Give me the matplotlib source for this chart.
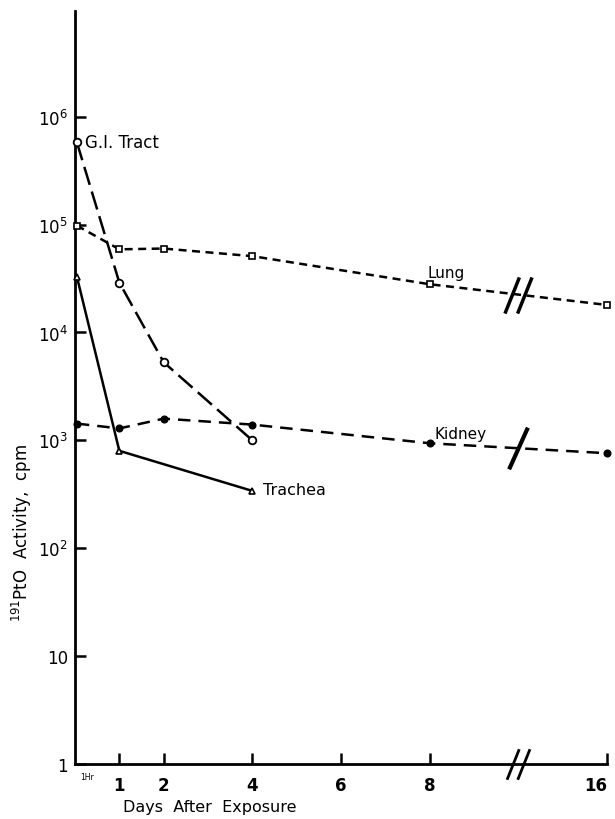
import matplotlib
matplotlib.use('Agg')
import matplotlib.pyplot as plt
import numpy as np
from matplotlib.path import Path

# ---- data ----
hr1 = 1 / 24
x_gi = [hr1, 1, 2, 4]
gi_tract = [5.8e5, 2.9e4, 5.3e3, 1.0e3]

x_lung = [hr1, 1, 2, 4, 8, 12]
lung = [9.8e4, 5.9e4, 6.0e4, 5.1e4, 2.8e4, 1.8e4]

x_kidney = [hr1, 1, 2, 4, 8, 12]
kidney = [1.43e3, 1.29e3, 1.59e3, 1.40e3, 9.4e2, 7.6e2]

x_trachea = [hr1, 1, 4]
trachea = [3.3e4, 8.0e2, 3.4e2]

xtick_pos = [1, 2, 4, 6, 8, 12]
xtick_labels = ['1', '2', '4', '6', '8', '16']
ytick_pos = [1, 10, 1e2, 1e3, 1e4, 1e5, 1e6]
ytick_labels = ['1', '10', r'$\mathregular{10^2}$', r'$\mathregular{10^3}$',
                r'$\mathregular{10^4}$', r'$\mathregular{10^5}$', r'$\mathregular{10^6}$']
break_x = 10

plt.rcParams['font.family'] = ['DejaVu Sans']

fig = plt.figure(figsize=(6.15, 8.2), dpi=100)
ax = fig.add_axes([75/615, 55/820, (607-75)/615, (765-12)/820])

ax.set_yscale('log')
ax.set_xlim(0, 12)
ax.set_ylim(1, 10**6.98)

lw = 1.8
ax.plot(x_gi, gi_tract, color='black', lw=lw, dashes=(7.5, 2.8),
        marker='o', ms=5.5, mfc='white', mec='black', mew=1.3, clip_on=False, zorder=3)
ax.plot(x_lung, lung, color='black', lw=lw, dashes=(3.2, 2.2),
        marker='s', ms=4.8, mfc='white', mec='black', mew=1.2, clip_on=False, zorder=3)
ax.plot(x_kidney, kidney, color='black', lw=lw, dashes=(5, 3.2),
        marker='o', ms=4.8, mfc='black', mec='black', clip_on=False, zorder=3)
ax.plot(x_trachea, trachea, color='black', lw=lw,
        marker='^', ms=5, mfc='white', mec='black', mew=1.2, clip_on=False, zorder=3)

# break marks
double = Path([(-0.75, -1), (0.05, 1), (-0.05, -1), (0.75, 1)],
              [Path.MOVETO, Path.LINETO, Path.MOVETO, Path.LINETO])
single = Path([(-0.45, -1), (0.45, 1)], [Path.MOVETO, Path.LINETO])

def interp_log(xs, ys, x):
    return 10 ** np.interp(x, xs, np.log10(ys))

ax.plot([break_x], [interp_log(x_lung, lung, break_x)], marker=double, ms=26,
        mec='black', mew=2.5, ls='none', zorder=4)
ax.plot([break_x], [interp_log(x_kidney, kidney, break_x)], marker=single, ms=30,
        mec='black', mew=3, ls='none', zorder=4)
ax.plot([break_x], [1], marker=double, ms=22, mec='black', mew=2,
        ls='none', clip_on=False, zorder=4)

# axes styling
for s in ['top', 'right']:
    ax.spines[s].set_visible(False)
for s in ['left', 'bottom']:
    ax.spines[s].set_linewidth(2)
ax.set_xticks(xtick_pos)
ax.set_xticklabels(xtick_labels, fontsize=12, fontweight='bold')
ax.get_xticklabels()[-1].set_horizontalalignment('right')
ax.set_yticks(ytick_pos)
ax.set_yticklabels(ytick_labels, fontsize=12)
ax.yaxis.set_minor_locator(matplotlib.ticker.NullLocator())
ax.tick_params(axis='both', direction='in', length=8, width=1.8)
ax.tick_params(axis='x', pad=9)
ax.tick_params(axis='y', pad=5)

ax.annotate('1Hr', xy=(hr1, 0), xycoords=('data', 'axes fraction'),
            xytext=(10, -13), textcoords='offset pixels', fontsize=5.5,
            ha='center', va='center')

# series labels
ax.annotate('G.I. Tract', xy=(x_gi[0], gi_tract[0]), xytext=(8, 0),
            textcoords='offset pixels', fontsize=12, ha='left', va='center')
ax.annotate('Lung', xy=(x_lung[4], lung[4]), xytext=(-2, 12),
            textcoords='offset pixels', fontsize=11, ha='left', va='center')
ax.annotate('Kidney', xy=(x_kidney[4], kidney[4]), xytext=(5, 10),
            textcoords='offset pixels', fontsize=11, ha='left', va='center')
ax.annotate('Trachea', xy=(x_trachea[2], trachea[2]), xytext=(11, 1),
            textcoords='offset pixels', fontsize=11.5, ha='left', va='center')

fig.text(22/615, 1 - 533/820, r'$\mathregular{^{191}}$PtO  Activity,  cpm',
         rotation=90, fontsize=12, ha='center', va='center')
fig.text(210/615, 1 - 808/820, 'Days  After  Exposure', fontsize=11.5,
         ha='center', va='center')

fig.savefig('out.png', dpi=100)
